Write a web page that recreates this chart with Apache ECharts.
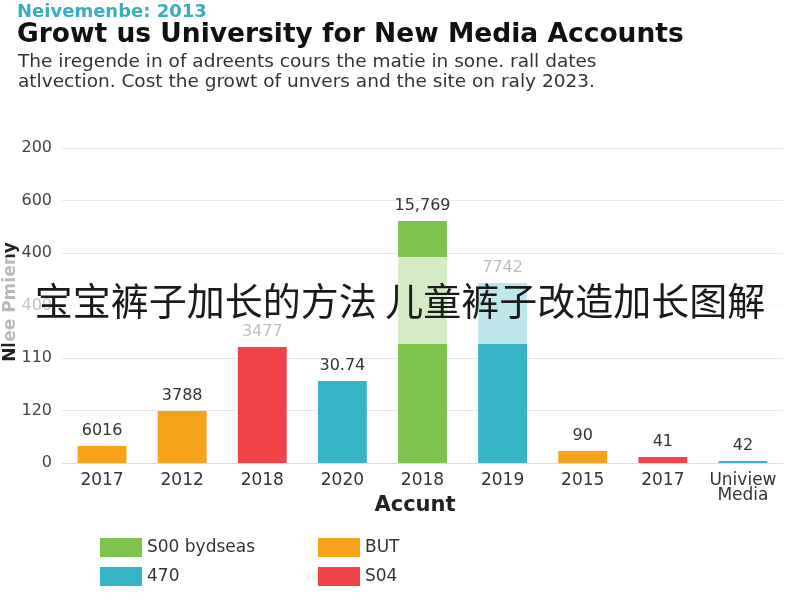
<!DOCTYPE html>
<html>
<head>
  <meta charset="utf-8"/>
  <script src="https://cdn.jsdelivr.net/npm/echarts@6/dist/echarts.min.js"></script>
  <style>html,body{margin:0;padding:0;background:#fff;}</style>
</head>
<body>
  <div id="chartmain" style="width:800px; height:600px;"></div>

  <script type="text/javascript">
    // categories along the x axis
    var categories = ['2017', '2012', '2018', '2020', '2018', '2019', '2015', '2017', 'Uniview\nMedia'];
    // bar heights (axis units, 0-1200 scale)
    var values = [65, 198, 442, 312, 922, 686, 46, 23, 8];
    // printed labels above the bars
    var barLabels = ['6016', '3788', '3477', '30.74', '15,769', '7742', '90', '41', '42'];
    // which legend group each bar belongs to
    var groups = ['BUT', 'BUT', 'S04', '470', 'S00 bydseas', '470', 'BUT', 'S04', '470'];
    // y tick labels, bottom to top
    var yTicks = ['0', '120', '110', '400', '400', '600', '200'];

    var groupNames = ['S00 bydseas', 'BUT', '470', 'S04'];
    var groupColors = {'S00 bydseas': '#7DC24B', 'BUT': '#F7A21B', '470': '#36B4C5', 'S04': '#EF4447'};

    var series = [];
    groupNames.forEach(function (g) {
      var d = [];
      for (var i = 0; i < values.length; i++) {
        d.push(groups[i] == g ? values[i] : '-');
      }
      series.push({
        name: g,
        type: 'bar',
        stack: 'all',
        barWidth: '61%',
        itemStyle: { color: groupColors[g] },
        label: {
          show: true,
          position: 'top',
          distance: 7,
          fontSize: 16,
          color: '#333',
          formatter: function (p) { return barLabels[p.dataIndex]; }
        },
        data: d
      });
    });

    var legendStyle = { fontSize: 17, color: '#333' };

    var option = {
      animation: false,
      textStyle: { fontFamily: 'DejaVu Sans' },
      title: [
        { text: 'Neivemenbe: 2013', left: 17, top: 3, padding: 0,
          textStyle: { color: '#3AAEC0', fontSize: 18, fontWeight: 'bold' } },
        { text: 'Growt us University for New Media Accounts', left: 17, top: 22, padding: 0,
          textStyle: { color: '#111', fontSize: 26.5, fontWeight: 'bold' } },
        { text: 'The iregende in of adreents cours the matie in sone. rall dates\natlvection. Cost the growt of unvers and the site on raly 2023.',
          left: 18, top: 52, padding: 0,
          textStyle: { color: '#333', fontSize: 18.5, fontWeight: 'normal', lineHeight: 20 } }
      ],
      legend: [
        { data: ['S00 bydseas', '470'], orient: 'vertical', left: 100, top: 538, padding: 0,
          icon: 'rect', itemWidth: 42, itemHeight: 19, itemGap: 10, textStyle: legendStyle },
        { data: ['BUT', 'S04'], orient: 'vertical', left: 318, top: 538, padding: 0,
          icon: 'rect', itemWidth: 42, itemHeight: 19, itemGap: 10, textStyle: legendStyle }
      ],
      grid: { left: 62, right: 17, top: 148, bottom: 137, outerBoundsMode: 'none' },
      xAxis: {
        type: 'category',
        data: categories,
        axisTick: { show: false },
        axisLine: { lineStyle: { color: '#ddd' } },
        axisLabel: { interval: 0, fontSize: 17, color: '#333', margin: 10, lineHeight: 15 }
      },
      yAxis: {
        type: 'value',
        min: 0,
        max: 1200,
        interval: 200,
        axisLabel: {
          fontSize: 16, color: '#444', margin: 10,
          formatter: function (v) { return yTicks[Math.round(v / 200)]; }
        },
        splitLine: { lineStyle: { color: '#e8e8e8' } }
      },
      graphic: [
        // axis names
        { type: 'text', x: 415, y: 506,
          style: { text: 'Accunt', align: 'center', verticalAlign: 'middle',
                   font: 'bold 21px "DejaVu Sans"', fill: '#222' } },
        { type: 'text', x: 11, y: 302, rotation: Math.PI / 2,
          style: { text: 'Nlee Pmieny', align: 'center', verticalAlign: 'middle',
                   font: 'bold 17px "DejaVu Sans"', fill: '#222' } },
        // watermark band
        { type: 'rect', left: 0, top: 257, z: 100,
          shape: { width: 800, height: 87 },
          style: { fill: 'rgba(255,255,255,0.68)' } },
        { type: 'text', left: 'center', top: 282, z: 101,
          style: { text: '宝宝裤子加长的方法 儿童裤子改造加长图解',
                   font: '38px "Noto Sans CJK SC"', fill: '#1a1a1a' } }
      ],
      series: series
    };

    var myChart = echarts.init(document.getElementById('chartmain'));
    myChart.setOption(option);
  </script>
</body>
</html>
